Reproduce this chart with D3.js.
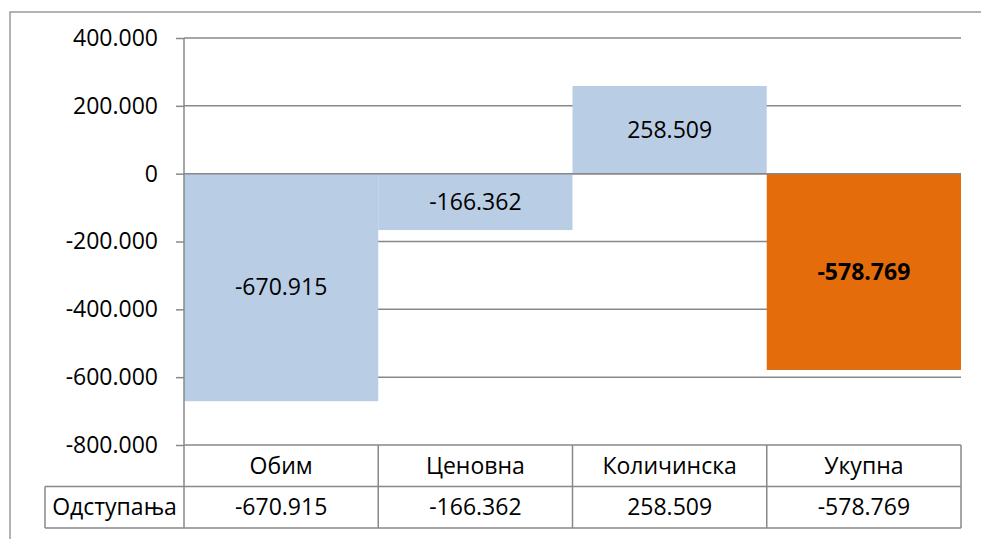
<!DOCTYPE html>
<html>
<head>
<meta charset="utf-8">
<script src="https://cdn.jsdelivr.net/npm/d3@7"></script>
<style>
  body { margin: 0; background: #fff; }
  svg { display: block; font-family: "Open Sans", sans-serif; }
</style>
</head>
<body>
<svg width="981" height="539"></svg>
<script>
// chart data
var categories = ["Обим", "Ценовна", "Количинска", "Укупна"];
var values = [-670915, -166362, 258509, -578769];
var rowLabel = "Одступања";
var yTicks = [400000, 200000, 0, -200000, -400000, -600000, -800000];

var svg = d3.select("svg");

var locale = d3.formatLocale({ decimal: ",", thousands: ".", grouping: [3], currency: ["", ""], minus: "-" });
var fmt = locale.format(",d");

var plotL = 184, plotR = 961, plotT = 38, plotB = 445;
var rowH = 41.5;

var x = d3.scaleBand().domain(categories).range([plotL, plotR]).padding(0);
var y = d3.scaleLinear().domain([-800000, 400000]).range([plotB, plotT]);

// outer frame
svg.append("path")
  .attr("d", "M10,539 L10,12 L981,12")
  .attr("fill", "none")
  .attr("stroke", "#9a9a9a")
  .attr("stroke-width", 1.5);

// ticks + labels via axis
var yAxis = svg.append("g")
  .attr("transform", "translate(" + plotL + ",0)")
  .call(d3.axisLeft(y).tickValues(yTicks).tickSize(8).tickPadding(18).tickFormat(function(d) { return d === 0 ? "0" : fmt(d); }));
yAxis.select(".domain").remove();
yAxis.selectAll(".tick line").attr("stroke", "#888").attr("stroke-width", 1.5);
yAxis.selectAll(".tick text")
  .attr("font-family", "Open Sans, sans-serif")
  .attr("font-size", 23)
  .attr("fill", "#000");

// gridlines
svg.append("g")
  .selectAll("line")
  .data(yTicks)
  .enter()
  .append("line")
  .attr("x1", plotL)
  .attr("x2", plotR)
  .attr("y1", function(d) { return y(d); })
  .attr("y2", function(d) { return y(d); })
  .attr("stroke", "#888")
  .attr("stroke-width", 1.5);

// bars
svg.append("g")
  .selectAll("rect")
  .data(values)
  .enter()
  .append("rect")
  .attr("x", function(d, i) { return x(categories[i]); })
  .attr("width", x.bandwidth())
  .attr("y", function(d) { return y(Math.max(0, d)); })
  .attr("height", function(d) { return Math.abs(y(d) - y(0)); })
  .attr("fill", function(d, i) { return i === 3 ? "#e46c0a" : "#b9cde5"; });

// zero line on top
svg.append("line")
  .attr("x1", plotL).attr("x2", plotR)
  .attr("y1", y(0)).attr("y2", y(0))
  .attr("stroke", "#888").attr("stroke-width", 1.5);

// bar labels
svg.append("g")
  .selectAll("text")
  .data(values)
  .enter()
  .append("text")
  .attr("x", function(d, i) { return x(categories[i]) + x.bandwidth() / 2; })
  .attr("y", function(d) { return (y(d) + y(0)) / 2; })
  .attr("dy", "0.35em")
  .attr("text-anchor", "middle")
  .attr("font-size", 23)
  .attr("font-weight", function(d, i) { return i === 3 ? "bold" : "normal"; })
  .text(function(d) { return fmt(d); });

// data table
var table = svg.append("g").attr("stroke", "#888").attr("stroke-width", 1.5).attr("fill", "none");
var r1 = plotB, r2 = plotB + rowH, r3 = plotB + 2 * rowH;
table.append("line").attr("x1", 45).attr("x2", plotR).attr("y1", r2).attr("y2", r2);
table.append("line").attr("x1", 45).attr("x2", plotR).attr("y1", r3).attr("y2", r3);
table.append("line").attr("x1", 45).attr("x2", 45).attr("y1", r2).attr("y2", r3);
// y axis line runs through table
table.append("line").attr("x1", plotL).attr("x2", plotL).attr("y1", plotT).attr("y2", r3);
table.selectAll(".sep")
  .data(categories)
  .enter()
  .append("line")
  .attr("class", "sep")
  .attr("x1", function(d) { return x(d) + x.bandwidth(); })
  .attr("x2", function(d) { return x(d) + x.bandwidth(); })
  .attr("y1", r1)
  .attr("y2", r3);

svg.append("g")
  .selectAll("text")
  .data(categories)
  .enter()
  .append("text")
  .attr("x", function(d) { return x(d) + x.bandwidth() / 2; })
  .attr("y", (r1 + r2) / 2)
  .attr("dy", "0.35em")
  .attr("text-anchor", "middle")
  .attr("font-size", 23)
  .text(function(d) { return d; });

svg.append("g")
  .selectAll("text")
  .data(values)
  .enter()
  .append("text")
  .attr("x", function(d, i) { return x(categories[i]) + x.bandwidth() / 2; })
  .attr("y", (r2 + r3) / 2)
  .attr("dy", "0.35em")
  .attr("text-anchor", "middle")
  .attr("font-size", 23)
  .text(function(d) { return fmt(d); });

svg.append("text")
  .attr("x", (45 + plotL) / 2)
  .attr("y", (r2 + r3) / 2)
  .attr("dy", "0.35em")
  .attr("text-anchor", "middle")
  .attr("font-size", 23)
  .text(rowLabel);
</script>
</body>
</html>
